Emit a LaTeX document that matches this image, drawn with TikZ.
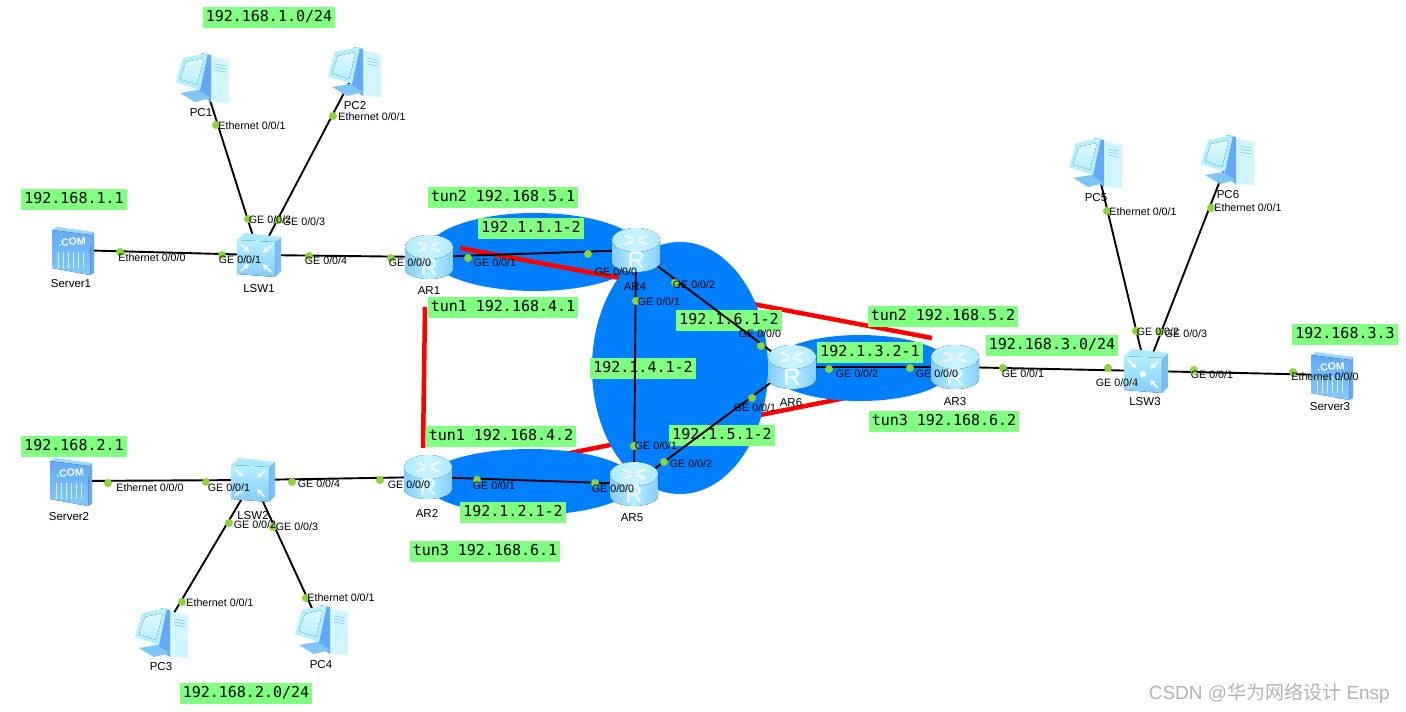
\documentclass[tikz,border=0pt]{standalone}
\usepackage{fontspec}
\setmainfont{Liberation Sans}
\newfontfamily\labelfont{DejaVu Sans Mono}
\newfontfamily\cjkfont{Noto Sans CJK SC}
\usetikzlibrary{arrows.meta}
\definecolor{tunnelblue}{HTML}{0080FF}
\definecolor{netgreen}{HTML}{80FF80}
\definecolor{portgreen}{HTML}{8CD43C}
\definecolor{iconlight}{HTML}{B4F0FF}
\definecolor{iconmid}{HTML}{85CCFA}
\definecolor{icondark}{HTML}{62A8F5}
\tikzset{
    netlabel/.style={fill=netgreen,inner xsep=3pt,inner ysep=3.5pt,text height=11pt,text depth=3pt,font=\labelfont\fontsize{15}{15}\selectfont},
    portlabel/.style={inner sep=0pt,font=\fontsize{10.7}{12}\selectfont},
    devlabel/.style={inner sep=0pt,font=\fontsize{11.5}{13}\selectfont},
    portdot/.style={circle,fill=portgreen,minimum size=8pt,inner sep=0pt},
    devpoint/.style={inner sep=0pt,minimum size=0pt},
    area/.style={fill=tunnelblue},
    tunnel/.style={red,line width=4.5pt},
    link/.style={black,line width=1.9pt},
    routericon/.pic={
        \fill[left color=iconmid,right color=iconmid,middle color=iconlight] (-24,-10) -- (-24,12) arc[start angle=180,end angle=360,x radius=24pt,y radius=10pt] -- (24,-10) -- cycle;
        \fill[left color=iconlight!85!iconmid,right color=iconlight!85!iconmid,middle color=iconlight!70!white] (0,-10) ellipse [x radius=24pt,y radius=12pt];
        \foreach \a in {40,220}
            \draw[white,line width=1.4pt,-{Stealth[length=4pt,width=4.5pt]}] ({3*cos(\a)},{-10+1.5*sin(\a)}) -- ({15*cos(\a)},{-10+7.5*sin(\a)});
        \foreach \a in {140,320}
            \draw[white,line width=1.4pt,-{Stealth[length=4pt,width=4.5pt]}] ({15*cos(\a)},{-10+7.5*sin(\a)}) -- ({3*cos(\a)},{-10+1.5*sin(\a)});
        \node[white,inner sep=0pt,font=\fontsize{23.5}{24}\selectfont] (glyph) at (0,10) {R};
    },
    switchicon/.pic={
        \fill[iconmid!70!icondark] (16,-13) -- (22,-18) -- (22,16) -- (16,22) -- cycle;
        \fill[iconlight!80!iconmid] (-22,-15) -- (-14,-22) -- (22,-18) -- (16,-13) -- cycle;
        \fill[top color=iconlight,bottom color=iconmid] (-22,-15) -- (16,-13) -- (16,22) -- (-22,19) -- cycle;
        \foreach \a/\b in {-18/-11,12/-9,-18/16,12/17}
            \draw[white,line width=1.6pt,-{Stealth[length=5.5pt,width=6pt]}] (\a,\b) -- ({-3+0.45*(\a+3)},{3+0.45*(\b-3)});
    },
    pcicon/.pic={
        \fill[iconlight!60!white] (6,-22) -- (26,-18) -- (26,25) -- (8,24) -- cycle;
        \fill[icondark] (-1,-25) -- (8,-23) -- (8,24) -- (-4,16) -- cycle;
        \fill[iconmid!80!icondark] (-23,15) -- (-5,12) -- (8,20) -- (-8,24) -- cycle;
        \fill[iconlight] (-20,-20) -- (5,-25) -- (-3,12) -- (-27,4) -- cycle;
        \fill[top color=iconlight!40!white,bottom color=iconlight] (-17,-16) -- (1,-20) -- (-6,7) -- (-23,1) -- cycle;
        \foreach \v in {-14,-11,-8}
            \draw[iconmid,line width=.7pt] (12,\v) -- (23,{\v+2});
    },
    servericon/.pic={
        \fill[icondark] (19,-15) -- (22,-18) -- (22,23) -- (18,25) -- cycle;
        \fill[iconmid!60!iconlight] (-20,-20) -- (-15,-23) -- (22,-18) -- (19,-15) -- cycle;
        \fill[top color=icondark,bottom color=iconmid] (-20,-20) -- (19,-15) -- (18,25) -- (-20,18) -- cycle;
        \node[white,inner sep=0pt,rotate=5,font=\bfseries\fontsize{10.5}{11}\selectfont] (com) at (0,-8) {.COM};
        \foreach \v in {-14,-9,...,14}
            \draw[white!70!iconmid,line width=.7pt] (\v,2) -- (\v,18);
    }
}
\begin{document}
\begin{tikzpicture}[x=1pt,y=-1pt]
    \useasboundingbox (0,0) rectangle (1406,712);
    %% tunnels under the areas
    \coordinate (tunA) at (425,307);
    \coordinate (tunB) at (423,448);
    \coordinate (tunC) at (560,455);
    \coordinate (tunD) at (850,397);
    \coordinate (tunE) at (700,294);
    \coordinate (tunF) at (932,338);
    \coordinate (tunG) at (460,248);
    \coordinate (tunH) at (625,279);
    \draw[tunnel] (tunA) -- (tunB);
    \draw[tunnel] (tunC) -- (tunD);
    \draw[tunnel] (tunE) -- (tunF);
    %% blue areas
    \fill[area] (535,252) ellipse [x radius=108pt,y radius=39pt];
    \fill[area] (530,482) ellipse [x radius=105pt,y radius=33pt];
    \draw[tunnel] (tunG) -- (tunH);
    \fill[area] (680,368) ellipse [x radius=88pt,y radius=126pt];
    \fill[area] (860,368) ellipse [x radius=92pt,y radius=33pt];
    %% green labels
    \node[netlabel] (net1) at (269,17) {192.168.1.0/24};
    \node[netlabel] (net2) at (74,199) {192.168.1.1};
    \node[netlabel] (net3) at (503,197) {tun2 192.168.5.1};
    \node[netlabel] (net4) at (531,228) {192.1.1.1-2};
    \node[netlabel] (net5) at (503,307) {tun1 192.168.4.1};
    \node[netlabel] (net6) at (729,320) {192.1.6.1-2};
    \node[netlabel] (net7) at (643,368) {192.1.4.1-2};
    \node[netlabel] (net8) at (501,436) {tun1 192.168.4.2};
    \node[netlabel] (net9) at (722,435) {192.1.5.1-2};
    \node[netlabel] (net10) at (513,512) {192.1.2.1-2};
    \node[netlabel] (net11) at (485,551) {tun3 192.168.6.1};
    \node[netlabel] (net12) at (943,316) {tun2 192.168.5.2};
    \node[netlabel] (net13) at (870,352) {192.1.3.2-1};
    \node[netlabel] (net14) at (1052,345) {192.168.3.0/24};
    \node[netlabel] (net15) at (1345,334) {192.168.3.3};
    \node[netlabel] (net16) at (944,421) {tun3 192.168.6.2};
    \node[netlabel] (net17) at (74,446) {192.168.2.1};
    \node[netlabel] (net18) at (246,693) {192.168.2.0/24};
    %% devices
    \foreach \n/\x/\y in {Server1/72/250,Server2/70/481,Server3/1331/375,
        LSW1/259/255,LSW2/253/480,LSW3/1146/371,
        AR1/429/257,AR2/428/477,AR3/955/367,AR4/636/250,AR5/634/484,AR6/792/367,
        PC1/203/78,PC2/355/72,PC3/162/633,PC4/322/630,PC5/1096/163,PC6/1228/160}
        \node[devpoint] (\n) at (\x,\y) {};
    %% links
    \foreach \a/\b in {Server1/LSW1,LSW1/PC1,LSW1/PC2,LSW1/AR1,AR1/AR4,AR4/AR5,AR4/AR6,AR5/AR6,
        AR2/AR5,LSW2/AR2,Server2/LSW2,LSW2/PC3,LSW2/PC4,AR6/AR3,AR3/LSW3,LSW3/PC5,LSW3/PC6,LSW3/Server3}
        \draw[link] (\a) -- (\b);
    %% icons
    \foreach \n in {AR1,AR2,AR3,AR4,AR5,AR6} \pic (icon\n) at (\n) {routericon};
    \foreach \n in {LSW1,LSW2,LSW3} \pic (icon\n) at (\n) {switchicon};
    \foreach \n in {PC1,PC2,PC3,PC4,PC5,PC6} \pic (icon\n) at (\n) {pcicon};
    \foreach \n in {Server1,Server2,Server3} \pic (icon\n) at (\n) {servericon};
    \fill[white] ([shift={(-3,3)}]LSW3) circle (3pt);
    \foreach \t/\x/\y in {Server1/71/284,Server2/69/517,Server3/1330/407,LSW1/259/289,LSW2/253/516,LSW3/1145/402,
        AR1/429/291,AR2/427/513,AR3/955/402,AR4/635/287,AR5/632/518,AR6/791/403,
        PC1/201/113,PC2/355/106,PC3/161/667,PC4/321/665,PC5/1096/198,PC6/1228/195}
        \node[devlabel] (name\t) at (\x,\y) {\t};
    %% port dots
    \foreach \x/\y [count=\i] in {120/252,222/255,216/125,248/219,333/116,278/220,309/256,391/258,
        468/258,588/254,636/301,634/446,675/283,761/346,664/462,752/398,477/480,595/483,
        292/482,380/480,108/483,206/482,229/523,182/602,273/527,306/598,829/369,910/368,
        1003/368,1108/368,1107/211,1136/331,1211/208,1160/332,1194/370,1293/372}
        \node[portdot] (dot\i) at (\x,\y) {};
    %% port labels
    \foreach \x/\y/\k [count=\i] in {240/260/1,270/220/2,304/222/3,326/261/4,410/263/0,495/263/1,616/272/0,
        659/302/1,656/446/1,694/285/2,760/334/0,691/464/2,755/408/1,494/486/1,613/489/0,
        319/484/4,409/485/0,229/488/1,255/525/2,297/527/3,857/374/2,937/374/0,
        1023/374/1,1117/383/4,1158/332/2,1186/334/3,1212/375/1}
        \node[portlabel] (ge\i) at (\x,\y) {GE 0/0/\k};
    \foreach \x/\y/\k [count=\i] in {152/258/0,252/126/1,372/117/1,150/488/0,220/603/1,341/598/1,
        1143/212/1,1248/208/1,1325/377/0}
        \node[portlabel] (eth\i) at (\x,\y) {Ethernet 0/0/\k};
    \node[gray!60,inner sep=0pt,anchor=east,font=\fontsize{19}{20}\selectfont] (mark) at (1390,693) {CSDN @{\cjkfont 华为网络设计} Ensp};
\end{tikzpicture}
\end{document}
